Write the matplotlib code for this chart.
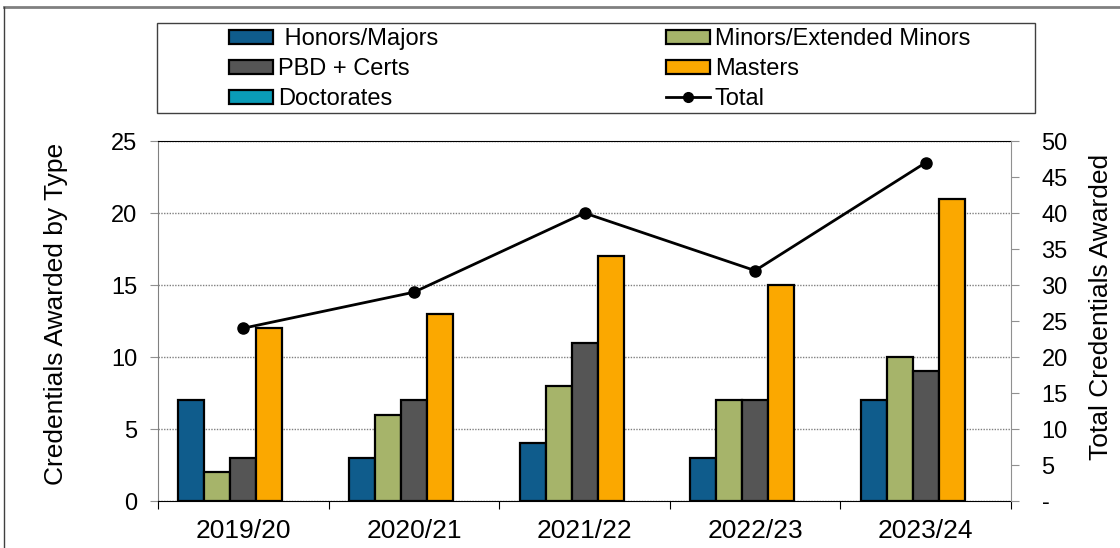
import numpy as np
import matplotlib
matplotlib.use("Agg")
import matplotlib.pyplot as plt
from matplotlib.patches import Rectangle, Patch
from matplotlib.lines import Line2D
from matplotlib.ticker import FixedLocator, FuncFormatter

plt.rcParams['font.family'] = ['Liberation Sans', 'DejaVu Sans']

# -------------------------------
# Data
# -------------------------------
years = ["2019/20", "2020/21", "2021/22", "2022/23", "2023/24"]
honors_majors = [7, 3, 4, 3, 7]
minors_ext = [2, 6, 8, 7, 10]
pbd_certs = [3, 7, 11, 7, 9]
masters = [12, 13, 17, 15, 21]
doctorates = [0, 0, 0, 0, 0]
total = [24, 29, 40, 32, 47]

series_names = [" Honors/Majors", "Minors/Extended Minors", "PBD + Certs",
                "Masters", "Doctorates"]
series_vals = [honors_majors, minors_ext, pbd_certs, masters, doctorates]
series_cols = ["#0f5c8c", "#a6b46a", "#555555", "#fba800", "#0a9cb8"]

# -------------------------------
# Figure / axes
# -------------------------------
W, H = 1120, 548
fig = plt.figure(figsize=(W / 100, H / 100), dpi=100)
ax = fig.add_axes([158 / W, 1 - 501 / H, (1011 - 158) / W, 360 / H])
ax2 = ax.twinx()

x = np.arange(len(years))
bw = 26 / 170.6
for i, (name, vals, col) in enumerate(zip(series_names, series_vals, series_cols)):
    # zero-height bars get no outline (Excel draws nothing for them)
    lws = [1.6 if v > 0 else 0 for v in vals]
    ax.bar(x + (i - 2) * bw, vals, width=bw, color=col, edgecolor="black",
           linewidth=lws, label=name, zorder=3)

ax2.plot(x, total, color="black", lw=2, marker="o", markersize=8, zorder=4)

# left axis
ax.set_xlim(-0.5, len(years) - 0.5)
ax.set_ylim(0, 25)
ax.set_yticks(range(0, 26, 5))
ax.tick_params(axis="y", labelsize=17, length=6, color="#909090", pad=9)
ax.grid(axis="y", color="#808080", lw=1, linestyle=(0, (1, 1)), zorder=0)
ax.set_axisbelow(True)

ax.xaxis.set_major_locator(FixedLocator(np.arange(-0.5, len(years), 1.0)))
ax.xaxis.set_minor_locator(FixedLocator(x))
ax.set_xticklabels([], minor=False)
ax.set_xticklabels(years, minor=True)
ax.tick_params(axis="x", which="major", length=6, color="black", direction="out")
ax.tick_params(axis="x", which="minor", length=0, labelsize=19, pad=13)

ax.spines["left"].set_color("#808080")
ax.spines["top"].set_color("black")
ax.spines["bottom"].set_color("black")
ax.spines["right"].set_visible(False)

ax.set_ylabel("Credentials Awarded by Type", fontsize=19)
ax.yaxis.set_label_coords(-0.106, 0.52)

# right axis
ax2.set_ylim(0, 50)
ax2.set_yticks(range(0, 51, 5))
ax2.yaxis.set_major_formatter(FuncFormatter(lambda v, p: "-" if v == 0 else f"{int(v)}"))
ax2.tick_params(axis="y", labelsize=17, length=6, color="#909090", pad=16)
for s in ["left", "top", "bottom"]:
    ax2.spines[s].set_visible(False)
ax2.spines["right"].set_color("#909090")
ax2.set_ylabel("Total Credentials Awarded", fontsize=19)
ax2.yaxis.set_label_coords(1.091, 0.54)

# -------------------------------
# Legend (two columns, boxed)
# -------------------------------
bar_h = [Patch(facecolor=c, edgecolor="black", lw=1.6) for c in series_cols]
line_h = Line2D([], [], color="black", lw=2, marker="o", markersize=7)
leg_kw = dict(frameon=False, fontsize=17, borderpad=0, borderaxespad=0,
              handlelength=1.86, handleheight=0.55, handletextpad=0.2,
              labelspacing=0.34, loc="upper left")
fig.legend([bar_h[0], bar_h[2], bar_h[4]],
           [series_names[0], series_names[2], series_names[4]],
           bbox_to_anchor=(229 / W, 1 - 28 / H), **leg_kw)
fig.legend([bar_h[1], bar_h[3], line_h],
           [series_names[1], series_names[3], "Total"],
           bbox_to_anchor=(666 / W, 1 - 28 / H), **leg_kw)

fig.add_artist(Rectangle((157 / W, 1 - 113 / H), (1035 - 157) / W, 90 / H,
                         transform=fig.transFigure, fill=False,
                         edgecolor="#404040", lw=1))

# outer border (top + left visible)
fig.add_artist(Line2D([4 / W, 1], [1 - 7 / H, 1 - 7 / H], transform=fig.transFigure,
                      color="#808080", lw=2))
fig.add_artist(Line2D([4 / W, 4 / W], [0, 1 - 7 / H], transform=fig.transFigure,
                      color="#404040", lw=1))

fig.savefig("out.png", dpi=100)
